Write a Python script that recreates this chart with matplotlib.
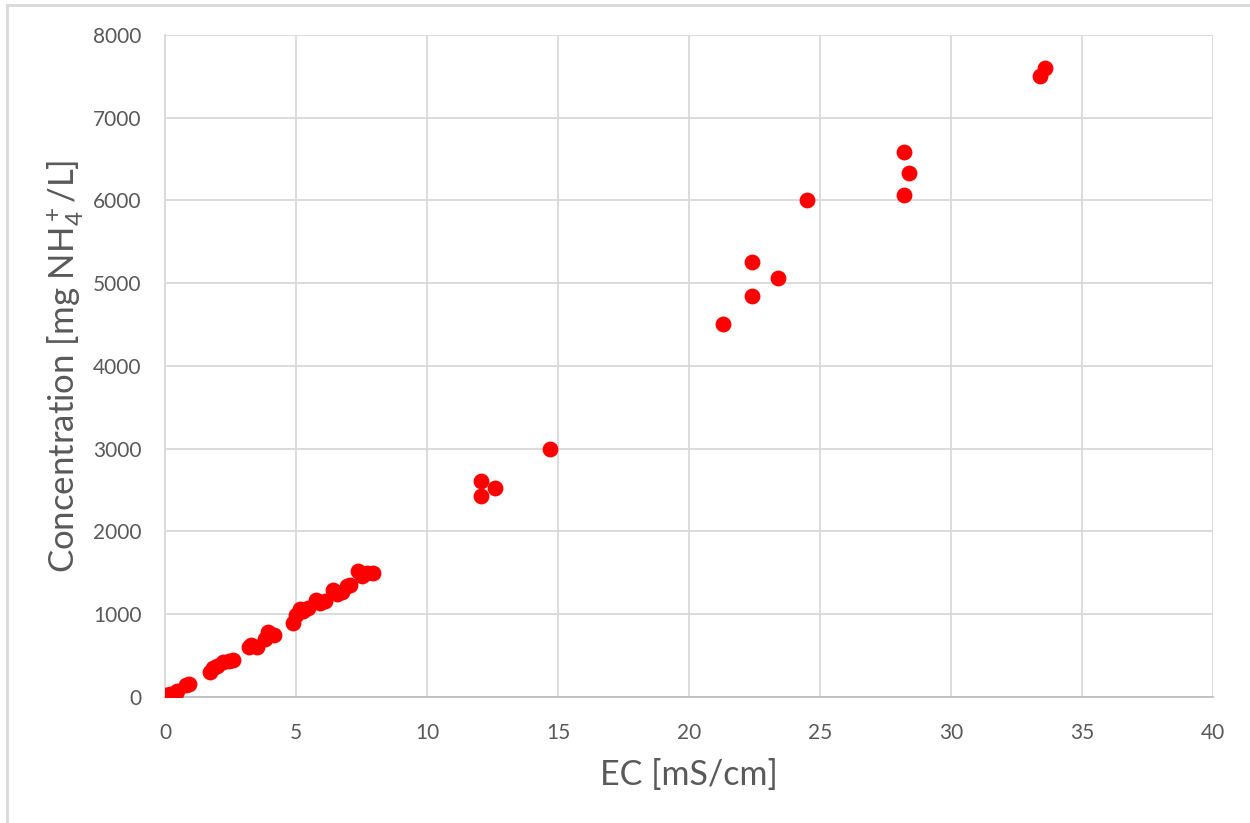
import matplotlib
matplotlib.use("Agg")
import matplotlib.pyplot as plt
from matplotlib.lines import Line2D

# Electrical conductivity vs. ammonium concentration
ec_ms_cm = [0.05, 0.2, 0.4, 0.45, 0.8, 0.9, 1.7, 1.85, 2.0, 2.2, 2.45, 2.6,
            3.2, 3.3, 3.5, 3.8, 3.95, 4.15, 4.9, 5.0, 5.15, 5.25, 5.45, 5.75,
            5.9, 6.1, 6.4, 6.55, 6.75, 6.95, 7.05, 7.35, 7.5, 7.7, 7.95,
            12.05, 12.05, 12.6, 14.7, 21.3, 22.4, 22.4, 23.4, 24.5,
            28.2, 28.2, 28.4, 33.4, 33.6]
conc_mg_l = [20, 40, 10, 70, 140, 160, 300, 350, 380, 420, 440, 450,
             600, 630, 610, 700, 780, 750, 900, 990, 1060, 1040, 1080, 1170,
             1140, 1160, 1290, 1240, 1270, 1340, 1350, 1520, 1460, 1500, 1500,
             2430, 2610, 2530, 3000, 4510, 4850, 5260, 5060, 6010,
             6070, 6590, 6330, 7510, 7600]

x_ticks = [0, 5, 10, 15, 20, 25, 30, 35, 40]
y_ticks = [0, 1000, 2000, 3000, 4000, 5000, 6000, 7000, 8000]

plt.rcParams['font.family'] = ['Lato', 'DejaVu Sans']
plt.rcParams['mathtext.fontset'] = 'custom'
plt.rcParams['mathtext.rm'] = 'Lato'
plt.rcParams['mathtext.it'] = 'Lato'
plt.rcParams['mathtext.default'] = 'regular'

text_col = '#595959'
grid_col = '#d9d9d9'

fig = plt.figure(figsize=(12.5, 8.23), dpi=100)
ax = fig.add_axes([0.132, 0.1531, 0.8384, 0.8044])

ax.scatter(ec_ms_cm, conc_mg_l, s=130, color='#ff0000', linewidths=0, zorder=3)

ax.set_xlim(0, 40)
ax.set_ylim(0, 8000)
ax.set_xticks(x_ticks)
ax.set_yticks(y_ticks)
ax.grid(True, color=grid_col, linewidth=1.3, zorder=0)
ax.set_axisbelow(True)

for side in ('top', 'right'):
    ax.spines[side].set_visible(False)
ax.spines['left'].set_color(grid_col)
ax.spines['left'].set_linewidth(1.3)
ax.spines['bottom'].set_color('#bfbfbf')
ax.spines['bottom'].set_linewidth(1.3)

ax.tick_params(axis='both', length=0, labelsize=15, labelcolor=text_col)
ax.tick_params(axis='x', pad=19)
ax.tick_params(axis='y', pad=17)

ax.set_xlabel('EC [mS/cm]', fontsize=24.5, color=text_col, labelpad=11)
ax.set_ylabel(r'Concentration [mg NH$_4^+$/L]', fontsize=25, color=text_col,
              labelpad=6)

# page frame lines around the chart
fig.add_artist(Line2D([7 / 1250, 1], [1 - 5 / 823, 1 - 5 / 823],
                      transform=fig.transFigure, color='#d9d9d9', linewidth=2))
fig.add_artist(Line2D([7 / 1250, 7 / 1250], [0, 1 - 5 / 823],
                      transform=fig.transFigure, color='#d9d9d9', linewidth=2))

fig.savefig('out.png', dpi=100)
